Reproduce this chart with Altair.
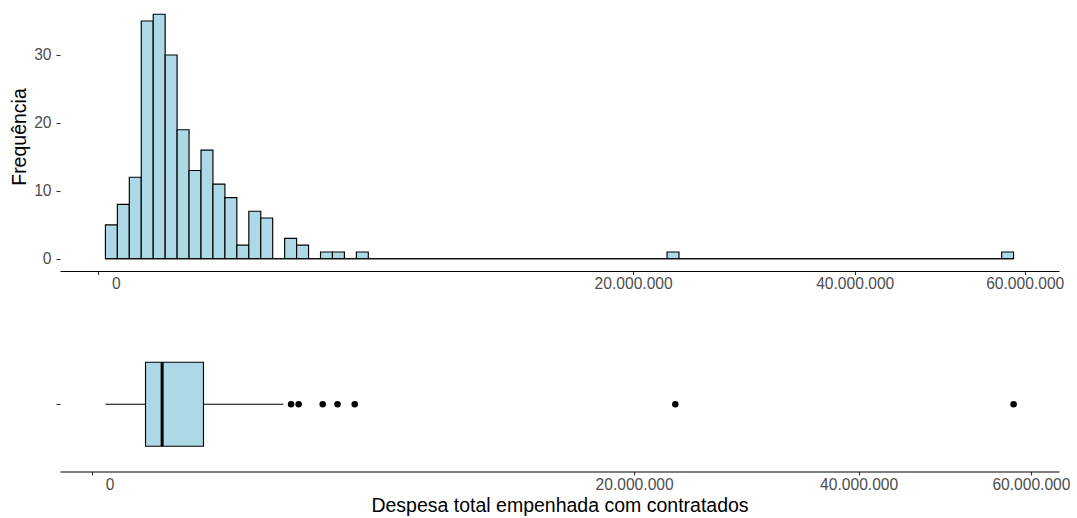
import altair as alt
import numpy as np
import pandas as pd

# ---------------- data (values in R$) ----------------
# histogram counts, bins built on the square-root scale (ggplot scale_x_sqrt)
hist_counts = [5, 8, 12, 35, 36, 30, 19, 13, 16, 11, 9, 2, 7, 6, 0, 3, 2, 0, 1, 1, 0, 1] \
    + [0] * 25 + [1] + [0] * 27 + [1]
min_value = 12_100          # smallest expense
max_value = 57_806_000      # largest expense

# boxplot summary
box_lower = 12_100
box_q1 = 194_500
box_median = 334_100
box_q3 = 844_600
box_upper = 2_490_000
outliers = [2_696_000, 2_904_000, 3_621_000, 4_101_000, 4_696_000, 23_155_000, 57_806_000]

tick_values = [0, 20_000_000, 40_000_000, 60_000_000]
tick_labels = ["0", "20.000.000", "40.000.000", "60.000.000"]
y_ticks = [0, 10, 20, 30]

# ---------------- derived tables ----------------
n_bins = len(hist_counts)
s_min, s_max = np.sqrt(min_value), np.sqrt(max_value)
bw = (s_max - s_min) / (n_bins - 1)
edges_s = s_min - bw / 2 + bw * np.arange(n_bins + 1)
hist = pd.DataFrame({
    "x0": edges_s[:-1] ** 2,
    "x1": edges_s[1:] ** 2,
    "count": hist_counts,
})
base_df = pd.DataFrame({"x0": [edges_s[0] ** 2], "x1": [edges_s[-1] ** 2], "y": [0]})


def sq(v):
    return float(np.sign(v) * v * v)


def expand(lo, hi):
    r = hi - lo
    return [sq(lo - 0.05 * r), sq(hi + 0.05 * r)]


top_domain = expand(edges_s[0], edges_s[-1])
bot_domain = expand(s_min, s_max)
ymax = max(hist_counts)
y_domain = [-0.05 * ymax, ymax * 1.05]

label_expr = "''"
for v, l in zip(reversed(tick_values), reversed(tick_labels)):
    label_expr = f"datum.value == {v} ? '{l}' : ({label_expr})"

box_df = pd.DataFrame({"grp": ["a"], "lower": [box_lower], "q1": [box_q1], "median": [box_median],
                       "q3": [box_q3], "upper": [box_upper]})
out_df = pd.DataFrame({"grp": ["a"] * len(outliers), "v": outliers})

FILL = "#ADD8E6"
LABEL = "#4D4D4D"
TICK = "#333333"

W = 999


def x_axis(title=None):
    kw = dict(values=tick_values, labelExpr=label_expr, grid=False,
              domainColor="black", domainWidth=1.1, tickColor=TICK, tickSize=3.5,
              tickWidth=1.1, labelColor=LABEL, labelFontSize=15.6, labelPadding=2,
              labelFlush=False, labelOverlap=False,
              labelOffset={"condition": {"test": "datum.value == 0", "value": 17.5}, "value": 0})
    if title is None:
        return alt.Axis(title=None, **kw)
    return alt.Axis(title=title, titleFontSize=19.5, titleFontWeight="normal",
                    titleColor="black", titlePadding=4, **kw)


xs_top = alt.Scale(type="sqrt", domain=top_domain, nice=False, zero=False)
xs_bot = alt.Scale(type="sqrt", domain=bot_domain, nice=False, zero=False)

bars = alt.Chart(hist).mark_rect(fill=FILL, stroke="black", strokeWidth=1.15).encode(
    x=alt.X("x0:Q", scale=xs_top, axis=x_axis()),
    x2="x1:Q",
    y=alt.Y("count:Q", scale=alt.Scale(domain=y_domain, nice=False, zero=False),
            axis=alt.Axis(values=y_ticks, title="Frequência", grid=False, domain=False,
                          tickColor=TICK, tickSize=4, tickWidth=1.1, labelColor=LABEL,
                          labelFontSize=15.6, labelPadding=5, titleFontSize=19.5,
                          titleFontWeight="normal", titleColor="black", titlePadding=4)),
    y2=alt.datum(0),
)
baseline = alt.Chart(base_df).mark_rule(color="black", strokeWidth=1.15).encode(
    x=alt.X("x0:Q", scale=xs_top), x2="x1:Q", y=alt.Y("y:Q"))

top = alt.layer(bars, baseline).properties(width=W, height=269)

ysc = alt.Scale(paddingInner=0, paddingOuter=0.3)
yax = alt.Axis(labels=False, title=None, domain=False, ticks=True, tickSize=4,
               tickColor=TICK, tickWidth=1.1, grid=False)

whisk = alt.Chart(box_df).transform_fold(["lower", "upper"], as_=["k", "w"]).transform_calculate(
    edge="datum.k == 'lower' ? datum.q1 : datum.q3"
).mark_rule(color="black", strokeWidth=1.15).encode(
    x=alt.X("w:Q", scale=xs_bot, axis=x_axis("Despesa total empenhada com contratados")),
    x2="edge:Q",
    y=alt.Y("grp:N", scale=ysc, axis=yax),
)
box = alt.Chart(box_df).mark_rect(fill=FILL, stroke="black", strokeWidth=1.15).encode(
    x=alt.X("q1:Q", scale=xs_bot), x2="q3:Q", y=alt.Y("grp:N", scale=ysc, axis=yax))
med = alt.Chart(box_df).mark_rect(fill="black", stroke="black", strokeWidth=3).encode(
    x=alt.X("median:Q", scale=xs_bot), x2="median:Q", y=alt.Y("grp:N", scale=ysc, axis=yax))
pts = alt.Chart(out_df).mark_circle(size=42, color="black", opacity=1).encode(
    x=alt.X("v:Q", scale=xs_bot), y=alt.Y("grp:N", scale=ysc, axis=yax))

bottom = alt.layer(whisk, box, med, pts).properties(width=W, height=134.5)

chart = alt.vconcat(top, bottom, spacing=44).properties(
    padding={"left": 9, "top": 2, "right": 0, "bottom": 0}
).configure(font="Liberation Sans").configure_view(stroke=None)

chart.save("out.html", embed_options={"renderer": "svg", "actions": False})
